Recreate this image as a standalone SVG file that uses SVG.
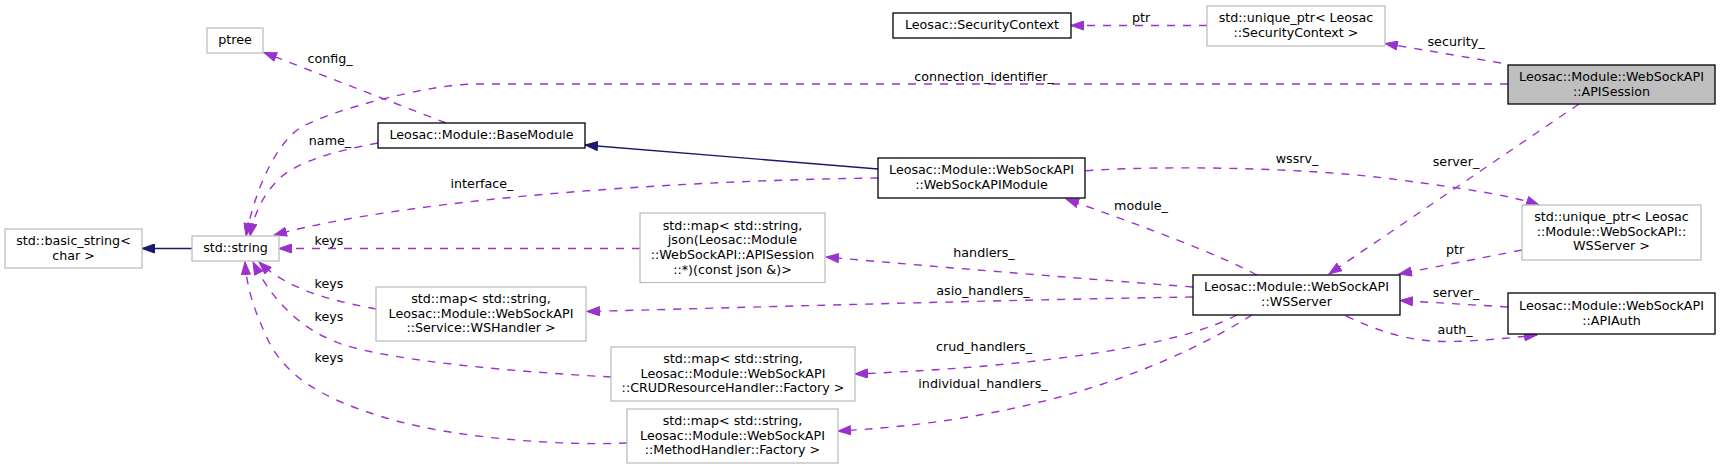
<svg xmlns="http://www.w3.org/2000/svg" width="1721" height="470" viewBox="0 0 1721 470">
<style>
text{font-family:"DejaVu Sans","Liberation Sans",sans-serif;font-size:12.7px;fill:#000;text-anchor:middle}
.nb{fill:#fff;stroke:#000;stroke-width:1.3}
.ng{fill:#fff;stroke:#bfbfbf;stroke-width:1.3}
.sel{fill:#bfbfbf;stroke:#000;stroke-width:1.3}
.e{fill:none;stroke:#9a32cd;stroke-width:1.4;stroke-dasharray:8,8;marker-end:url(#ap)}
.i{fill:none;stroke:#191970;stroke-width:1.4;marker-end:url(#ai)}
</style>
<defs>
<marker id="ap" markerUnits="userSpaceOnUse" markerWidth="14" markerHeight="10" refX="13" refY="5" orient="auto" viewBox="0 0 14 10">
<path d="M0.5,0.5 L13,5 L0.5,9.5 z" fill="#9a32cd" stroke="#9a32cd" stroke-width="1"/>
</marker>
<marker id="ai" markerUnits="userSpaceOnUse" markerWidth="14" markerHeight="10" refX="13" refY="5" orient="auto" viewBox="0 0 14 10">
<path d="M0.5,0.5 L13,5 L0.5,9.5 z" fill="#191970" stroke="#191970" stroke-width="1"/>
</marker>
</defs>
<g id="connectors">
<path class="e" d="M446,123 L264,52.5"/>
<path class="e" d="M378,143 C340,150 300,160 280,178 C262,195 254,215 250,236"/>
<path class="e" d="M1508,84 L475,84 C430,84 330,110 300,128 C275,145 255,190 246,236"/>
<path class="e" d="M878,178 C700,180 420,196 274,235"/>
<path class="i" d="M878,169 L585,145"/>
<path class="i" d="M192,248.5 L142,248.5"/>
<path class="e" d="M640,248.5 L279,248.5"/>
<path class="e" d="M376,309 C340,302 290,292 259,262"/>
<path class="e" d="M611,377 C520,372 400,362 344,345 C300,330 272,300 253,262"/>
<path class="e" d="M627,443 C560,446 450,438 383,417 C320,398 285,375 268,340 C255,312 247,290 245,262"/>
<path class="e" d="M1193,287 C1100,280 950,268 826,257"/>
<path class="e" d="M1193,297 C1000,300 800,306 587,311.5"/>
<path class="e" d="M1237,315 C1180,345 1050,366 855,374"/>
<path class="e" d="M1252,315 C1180,360 1050,420 838,431"/>
<path class="e" d="M1257,275 C1220,255 1140,225 1066,199"/>
<path class="e" d="M1085.5,170.7 C1150,166 1300,166 1400,180 C1460,188 1510,195 1539,205"/>
<path class="e" d="M1579,104 L1329,274"/>
<path class="e" d="M1522,250 L1399,274"/>
<path class="e" d="M1508,307 L1400,300.5"/>
<path class="e" d="M1346,316 C1380,332 1410,342 1450,341.5 C1480,341 1510,338 1537,335"/>
<path class="e" d="M1501,63 L1385,43.5"/>
<path class="e" d="M1207,25.5 L1071,25.5"/>
<text x="330" y="63">config_</text>
<text x="330" y="145">name_</text>
<text x="984" y="81">connection_identifier_</text>
<text x="482" y="188">interface_</text>
<text x="1141" y="22">ptr</text>
<text x="1456" y="46">security_</text>
<text x="1297" y="163">wssrv_</text>
<text x="1456" y="166">server_</text>
<text x="1141" y="210">module_</text>
<text x="329" y="245">keys</text>
<text x="329" y="288">keys</text>
<text x="329" y="321">keys</text>
<text x="329" y="362">keys</text>
<text x="984" y="257">handlers_</text>
<text x="983" y="295">asio_handlers_</text>
<text x="1455" y="254">ptr</text>
<text x="1456" y="297">server_</text>
<text x="1455" y="334">auth_</text>
<text x="984" y="351">crud_handlers_</text>
<text x="983" y="388">individual_handlers_</text>
</g>
<g id="ptree"><rect class="ng" x="207" y="28" width="56" height="25"/><text x="235" y="44.2">ptree</text></g>
<g id="BaseModule"><rect class="nb" x="378" y="123" width="207" height="25"/><text x="481.5" y="139.2">Leosac::Module::BaseModule</text></g>
<g id="SecurityContext"><rect class="nb" x="893" y="13" width="178" height="25"/><text x="982" y="29.2">Leosac::SecurityContext</text></g>
<g id="uptrSecurityContext"><rect class="ng" x="1207" y="6" width="178" height="40"/><text x="1296" y="22.4">std::unique_ptr&lt; Leosac</text><text x="1296" y="37">::SecurityContext &gt;</text></g>
<g id="APISession"><rect class="sel" x="1508" y="65" width="207" height="39"/><text x="1611.5" y="81">Leosac::Module::WebSockAPI</text><text x="1611.5" y="95.6">::APISession</text></g>
<g id="WebSockAPIModule"><rect class="nb" x="878" y="158" width="207" height="40"/><text x="981.5" y="174.4">Leosac::Module::WebSockAPI</text><text x="981.5" y="189">::WebSockAPIModule</text></g>
<g id="basic_string"><rect class="ng" x="5" y="229" width="137" height="39"/><text x="73.5" y="245">std::basic_string&lt;</text><text x="73.5" y="259.6">char &gt;</text></g>
<g id="std_string"><rect class="ng" x="192" y="236" width="87" height="25"/><text x="235.5" y="252.2">std::string</text></g>
<g id="handlersMap"><rect class="ng" x="640" y="213" width="185" height="69.5"/><text x="732.5" y="229.8">std::map&lt; std::string,</text><text x="732.5" y="244.4">json(Leosac::Module</text><text x="732.5" y="259">::WebSockAPI::APISession</text><text x="732.5" y="273.6">::*)(const json &amp;)&gt;</text></g>
<g id="WSHandlerMap"><rect class="ng" x="376" y="287" width="210" height="54"/><text x="481" y="303">std::map&lt; std::string,</text><text x="481" y="317.6">Leosac::Module::WebSockAPI</text><text x="481" y="332.2">::Service::WSHandler &gt;</text></g>
<g id="uptrWSServer"><rect class="ng" x="1522" y="205" width="179" height="55"/><text x="1611.5" y="221.2">std::unique_ptr&lt; Leosac</text><text x="1611.5" y="235.8">::Module::WebSockAPI::</text><text x="1611.5" y="250.4">WSServer &gt;</text></g>
<g id="WSServer"><rect class="nb" x="1193" y="275" width="207" height="40"/><text x="1296.5" y="291.4">Leosac::Module::WebSockAPI</text><text x="1296.5" y="306">::WSServer</text></g>
<g id="APIAuth"><rect class="nb" x="1508" y="293" width="207" height="41"/><text x="1611.5" y="309.9">Leosac::Module::WebSockAPI</text><text x="1611.5" y="324.5">::APIAuth</text></g>
<g id="CRUDMap"><rect class="ng" x="611" y="347" width="244" height="54"/><text x="733" y="363">std::map&lt; std::string,</text><text x="733" y="377.6">Leosac::Module::WebSockAPI</text><text x="733" y="392.2">::CRUDResourceHandler::Factory &gt;</text></g>
<g id="MethodMap"><rect class="ng" x="627" y="409" width="211" height="54"/><text x="732.5" y="425">std::map&lt; std::string,</text><text x="732.5" y="439.6">Leosac::Module::WebSockAPI</text><text x="732.5" y="454.2">::MethodHandler::Factory &gt;</text></g>
</svg>
